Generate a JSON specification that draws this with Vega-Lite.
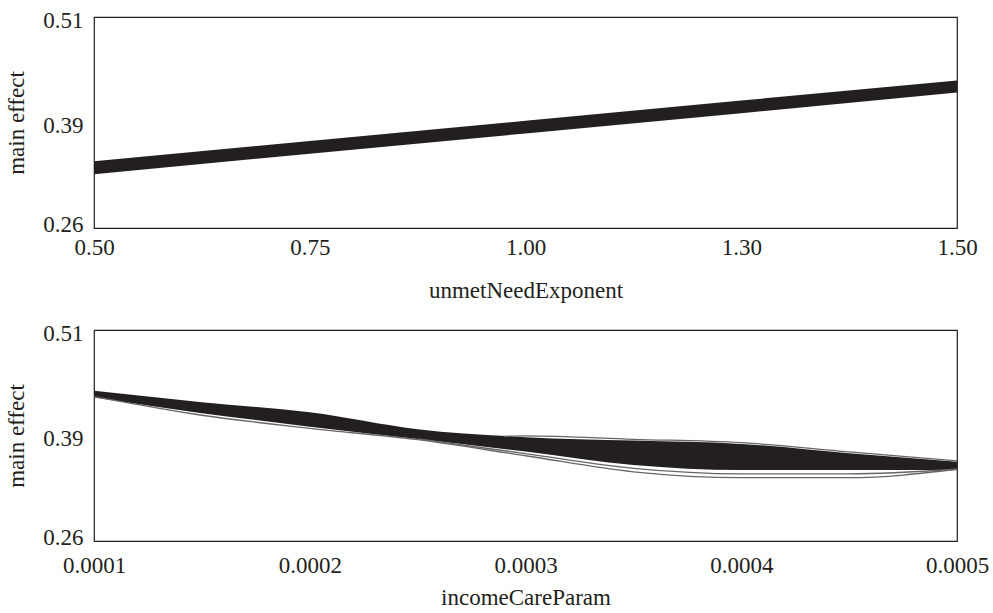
{
  "$schema": "https://vega.github.io/schema/vega-lite/v6.json",
  "background": "white",
  "padding": {"left": 5, "top": 8, "right": 5, "bottom": 5},
  "spacing": 102,
  "bounds": "flush",
  "config": {
    "font": "Liberation Serif",
    "view": {"stroke": "#231f20", "strokeWidth": 1.2},
    "axis": {
      "domain": false, "ticks": false, "tickSize": 0, "grid": false,
      "labelFont": "Liberation Serif", "labelFontSize": 23, "labelColor": "#231f20",
      "titleFont": "Liberation Serif", "titleFontSize": 23, "titleFontWeight": "normal", "titleColor": "#231f20",
      "labelFlush": false, "labelOverlap": false
    }
  },
  "vconcat": [
    {
      "width": 863, "height": 211,
      "data": {"values": [
        {"unmetNeedExponent": 0.5, "hi": 0.339, "lo": 0.3236},
        {"unmetNeedExponent": 0.75, "hi": 0.363, "lo": 0.348},
        {"unmetNeedExponent": 1.0, "hi": 0.387, "lo": 0.372},
        {"unmetNeedExponent": 1.25, "hi": 0.411, "lo": 0.396},
        {"unmetNeedExponent": 1.5, "hi": 0.4348, "lo": 0.4206}
      ]},
      "mark": {"type": "area", "color": "#231f20"},
      "encoding": {
        "x": {"field": "unmetNeedExponent", "type": "quantitative",
          "scale": {"domain": [0.5, 1.5], "nice": false, "zero": false},
          "axis": {"values": [0.5, 0.75, 1, 1.25, 1.5],
            "labelExpr": "datum.value == 1.25 ? '1.30' : format(datum.value, '.2f')",
            "title": "unmetNeedExponent", "labelPadding": 8, "titlePadding": 20}},
        "y": {"field": "hi", "type": "quantitative",
          "scale": {"domain": [0.26, 0.51], "nice": false, "zero": false},
          "axis": {"values": [0.26, 0.385, 0.51],
            "labelExpr": "datum.value < 0.3 ? '0.26' : (datum.value > 0.5 ? '0.51' : '0.39')",
            "labelOffset": {"condition": {"test": "datum.value < 0.3", "value": -4}, "value": 3},
            "title": "main effect", "labelPadding": 11, "titlePadding": 14}},
        "y2": {"field": "lo"}
      }
    },
    {
      "width": 863, "height": 211,
      "layer": [
        {
          "data": {"values": [
            {"incomeCareParam": 0.0001, "hi": 0.438, "lo": 0.430},
            {"incomeCareParam": 0.00015, "hi": 0.4245, "lo": 0.4115},
            {"incomeCareParam": 0.0002, "hi": 0.4125, "lo": 0.3955},
            {"incomeCareParam": 0.00025, "hi": 0.3925, "lo": 0.381},
            {"incomeCareParam": 0.0003, "hi": 0.383, "lo": 0.366},
            {"incomeCareParam": 0.00035, "hi": 0.379, "lo": 0.350},
            {"incomeCareParam": 0.0004, "hi": 0.375, "lo": 0.344},
            {"incomeCareParam": 0.00045, "hi": 0.364, "lo": 0.344},
            {"incomeCareParam": 0.0005, "hi": 0.354, "lo": 0.344}
          ]},
          "mark": {"type": "area", "color": "#231f20", "interpolate": "monotone"},
          "encoding": {
            "x": {"field": "incomeCareParam", "type": "quantitative",
              "scale": {"domain": [0.0001, 0.0005], "nice": false, "zero": false},
              "axis": {"values": [0.0001, 0.0002, 0.0003, 0.0004, 0.0005], "format": ".4f",
                "title": "incomeCareParam", "labelPadding": 13, "titlePadding": 9}},
            "y": {"field": "hi", "type": "quantitative",
              "scale": {"domain": [0.26, 0.51], "nice": false, "zero": false},
              "axis": {"values": [0.26, 0.385, 0.51],
                "labelExpr": "datum.value < 0.3 ? '0.26' : (datum.value > 0.5 ? '0.51' : '0.39')",
                "labelOffset": {"condition": {"test": "datum.value < 0.3", "value": -4}, "value": 3},
                "title": "main effect", "labelPadding": 11, "titlePadding": 14}},
            "y2": {"field": "lo"}
          }
        },
        {
          "data": {"values": [
            {"incomeCareParam": 0.0001, "v": 0.431, "s": "a"},
            {"incomeCareParam": 0.00015, "v": 0.409, "s": "a"},
            {"incomeCareParam": 0.0002, "v": 0.3935, "s": "a"},
            {"incomeCareParam": 0.00025, "v": 0.380, "s": "a"},
            {"incomeCareParam": 0.0003, "v": 0.361, "s": "a"},
            {"incomeCareParam": 0.00035, "v": 0.342, "s": "a"},
            {"incomeCareParam": 0.0004, "v": 0.335, "s": "a"},
            {"incomeCareParam": 0.00045, "v": 0.335, "s": "a"},
            {"incomeCareParam": 0.0005, "v": 0.345, "s": "a"},
            {"incomeCareParam": 0.00025, "v": 0.381, "s": "b"},
            {"incomeCareParam": 0.0003, "v": 0.3635, "s": "b"},
            {"incomeCareParam": 0.00035, "v": 0.346, "s": "b"},
            {"incomeCareParam": 0.0004, "v": 0.3395, "s": "b"},
            {"incomeCareParam": 0.00045, "v": 0.3395, "s": "b"},
            {"incomeCareParam": 0.0005, "v": 0.345, "s": "b"},
            {"incomeCareParam": 0.00029, "v": 0.384, "s": "c"},
            {"incomeCareParam": 0.0003, "v": 0.3845, "s": "c"},
            {"incomeCareParam": 0.00035, "v": 0.3805, "s": "c"},
            {"incomeCareParam": 0.0004, "v": 0.3765, "s": "c"},
            {"incomeCareParam": 0.00045, "v": 0.3655, "s": "c"},
            {"incomeCareParam": 0.0005, "v": 0.355, "s": "c"}
          ]},
          "mark": {"type": "line", "color": "#666666", "strokeWidth": 1.3, "interpolate": "monotone"},
          "encoding": {
            "x": {"field": "incomeCareParam", "type": "quantitative"},
            "y": {"field": "v", "type": "quantitative"},
            "detail": {"field": "s"}
          }
        }
      ]
    }
  ]
}
